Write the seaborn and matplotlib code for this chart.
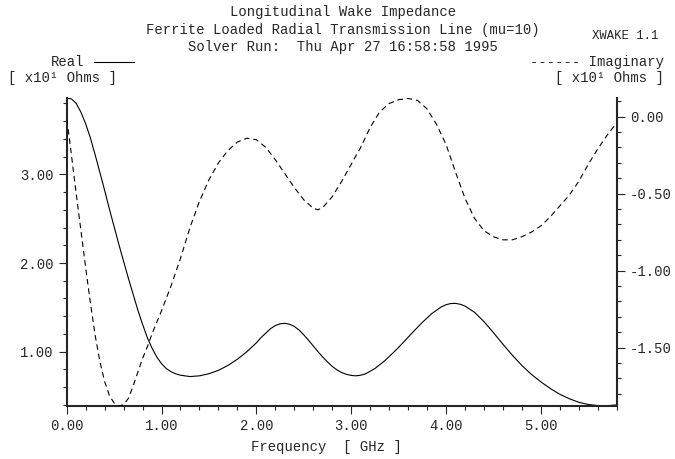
import matplotlib
matplotlib.use("Agg")
import matplotlib.pyplot as plt
from matplotlib.lines import Line2D
from matplotlib.ticker import MultipleLocator, FormatStrFormatter
import seaborn as sns

# values, in units of x10 Ohms, frequency in GHz
freq_real = [0.0, 0.05, 0.1, 0.15, 0.2, 0.25, 0.3, 0.35, 0.4, 0.45, 0.5, 0.55,
             0.6, 0.65, 0.7, 0.75, 0.8, 0.85, 0.9, 0.95, 1.0, 1.05, 1.1, 1.15,
             1.2, 1.3, 1.4, 1.5, 1.6, 1.7, 1.8, 1.9, 2.0, 2.05, 2.1, 2.15, 2.2,
             2.25, 2.3, 2.35, 2.4, 2.45, 2.5, 2.55, 2.6, 2.65, 2.7, 2.75, 2.8,
             2.85, 2.9, 2.95, 3.0, 3.05, 3.1, 3.15, 3.25, 3.35, 3.45, 3.55, 3.65,
             3.75, 3.85, 3.95, 4.0, 4.05, 4.1, 4.15, 4.2, 4.3, 4.4, 4.5, 4.6, 4.7,
             4.8, 4.9, 5.0, 5.1, 5.2, 5.3, 5.4, 5.5, 5.6, 5.7, 5.8]
real_vals = [3.86, 3.85, 3.80, 3.70, 3.57, 3.41, 3.22, 3.02, 2.82, 2.61, 2.41, 2.21,
             2.02, 1.83, 1.65, 1.47, 1.31, 1.16, 1.04, 0.94, 0.865, 0.81, 0.775, 0.75,
             0.735, 0.72, 0.728, 0.752, 0.79, 0.845, 0.915, 1.00, 1.10, 1.16, 1.21, 1.26, 1.295,
             1.315, 1.32, 1.31, 1.285, 1.245, 1.19, 1.13, 1.065, 1.00, 0.94, 0.885, 0.835,
             0.795, 0.765, 0.745, 0.733, 0.728, 0.735, 0.75, 0.81, 0.895, 0.995, 1.105, 1.22,
             1.33, 1.43, 1.505, 1.53, 1.543, 1.545, 1.535, 1.515, 1.445, 1.34, 1.215, 1.085, 0.96,
             0.845, 0.745, 0.66, 0.585, 0.52, 0.47, 0.43, 0.405, 0.393, 0.392, 0.40]

freq_imag = [0.0, 0.03, 0.06, 0.1, 0.15, 0.2, 0.25, 0.3, 0.35, 0.4, 0.45, 0.5,
             0.55, 0.6, 0.65, 0.7, 0.75, 0.8, 0.86, 0.9, 1.0, 1.1, 1.2, 1.3, 1.4,
             1.5, 1.6, 1.7, 1.8, 1.9, 2.0, 2.1, 2.2, 2.3, 2.4, 2.5, 2.6, 2.65,
             2.7, 2.8, 2.9, 3.0, 3.1, 3.2, 3.3, 3.4, 3.5, 3.6, 3.7, 3.8, 3.9,
             4.0, 4.1, 4.2, 4.3, 4.4, 4.5, 4.6, 4.7, 4.8, 4.9, 5.0, 5.1, 5.2,
             5.3, 5.4, 5.5, 5.6, 5.7, 5.8]
imag_vals = [-0.02, -0.15, -0.30, -0.50, -0.74, -0.98, -1.21, -1.42, -1.59, -1.72, -1.81, -1.86,
             -1.88, -1.87, -1.83, -1.75, -1.66, -1.57, -1.48, -1.41, -1.26, -1.10, -0.92, -0.72, -0.55,
             -0.41, -0.30, -0.22, -0.165, -0.14, -0.15, -0.20, -0.28, -0.37, -0.46, -0.54, -0.595, -0.605,
             -0.59, -0.52, -0.42, -0.31, -0.20, -0.07, 0.03, 0.085, 0.11, 0.118, 0.105, 0.05, -0.05,
             -0.18, -0.36, -0.53, -0.66, -0.74, -0.78, -0.80, -0.80, -0.78, -0.75, -0.71, -0.65, -0.58,
             -0.51, -0.42, -0.31, -0.21, -0.12, -0.04]

title_lines = ["Longitudinal Wake Impedance",
               "Ferrite Loaded Radial Transmission Line (mu=10)",
               "Solver Run:  Thu Apr 27 16:58:58 1995"]

sns.set_style("ticks")
plt.rcParams['font.family'] = ['Liberation Mono', 'DejaVu Sans Mono']
plt.rcParams['axes.unicode_minus'] = False

W, H = 675, 459
fig = plt.figure(figsize=(6.75, 4.59), dpi=100)
ax = fig.add_axes([66.7 / W, 1 - 406 / H, 550 / W, (406 - 98.3) / H])
ax2 = ax.twinx()

sns.lineplot(x=freq_real, y=real_vals, ax=ax, color='black', lw=0.8)
sns.lineplot(x=freq_imag, y=imag_vals, ax=ax2, color='black', lw=0.8,
             linestyle=(0, (5, 3.5)))

ax.set_xlim(0, 5.8)
ax.set_ylim(0.388, 3.857)
ax2.set_ylim(-1.879, 0.119)

ax.xaxis.set_major_locator(MultipleLocator(1))
ax.xaxis.set_minor_locator(MultipleLocator(0.2))
ax.yaxis.set_major_locator(MultipleLocator(1))
ax.yaxis.set_minor_locator(MultipleLocator(0.2))
ax2.yaxis.set_major_locator(MultipleLocator(0.5))
ax2.yaxis.set_minor_locator(MultipleLocator(0.1))
for a in [ax.xaxis, ax.yaxis, ax2.yaxis]:
    a.set_major_formatter(FormatStrFormatter('%.2f'))

ax.tick_params(which='major', direction='out', length=5.8, width=0.8, labelsize=10, pad=3.6)
ax.tick_params(which='minor', direction='out', length=2.9, width=0.8)
ax.tick_params(axis='y', right=False, which='both')
ax2.tick_params(which='major', direction='out', length=5.8, width=0.8, labelsize=10, pad=3.6)
ax2.tick_params(which='minor', direction='out', length=2.9, width=0.8)

for s in ['top', 'right']:
    ax.spines[s].set_visible(False)
for s in ['top', 'left', 'bottom']:
    ax2.spines[s].set_visible(False)
for sp in [ax.spines['left'], ax.spines['bottom'], ax2.spines['right']]:
    sp.set_linewidth(1.5)

ax.set_ylabel('')
ax2.set_ylabel('')
ax.set_xlabel('Frequency  [ GHz ]', fontsize=10, va='top')
ax.xaxis.set_label_coords((326 - 66.7) / 550, -34 / 307.7)

# header text
cx = 343 / W
fig.text(cx, 1 - 12 / H, title_lines[0], ha='center', va='center', fontsize=10)
fig.text(cx, 1 - 30 / H, title_lines[1], ha='center', va='center', fontsize=10)
fig.text(cx, 1 - 47 / H, title_lines[2], ha='center', va='center', fontsize=10)
fig.text(592 / W, 1 - 36 / H, 'XWAKE 1.1', ha='left', va='center', fontsize=8.8)

fig.text(51 / W, 1 - 62 / H, 'Real', ha='left', va='center', fontsize=10)
fig.add_artist(Line2D([94 / W, 134 / W], [1 - 62 / H, 1 - 62 / H],
                      transform=fig.transFigure, color='black', lw=0.8))
fig.text(8 / W, 1 - 78 / H, '[ x10\u00b9 Ohms ]', ha='left', va='center', fontsize=10)
fig.text(664 / W, 1 - 62 / H, '------ Imaginary', ha='right', va='center', fontsize=10)
fig.text(664 / W, 1 - 78 / H, '[ x10\u00b9 Ohms ]', ha='right', va='center', fontsize=10)

fig.savefig('out.png', dpi=100)
